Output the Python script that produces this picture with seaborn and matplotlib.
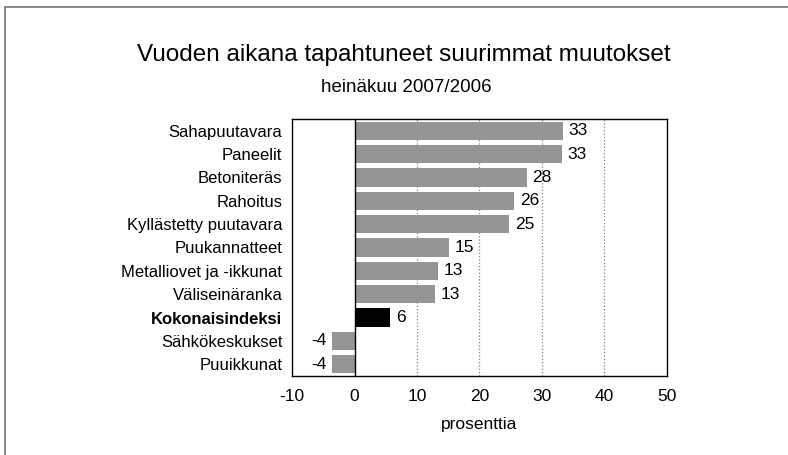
import numpy as np
import pandas as pd
import matplotlib
matplotlib.use("Agg")
import matplotlib.pyplot as plt
from matplotlib.lines import Line2D
import seaborn as sns

# Data
categories = ["Sahapuutavara", "Paneelit", "Betoniteräs", "Rahoitus",
              "Kyllästetty puutavara", "Puukannatteet", "Metalliovet ja -ikkunat",
              "Väliseinäranka", "Kokonaisindeksi", "Sähkökeskukset", "Puuikkunat"]
values = [33.4, 33.2, 27.6, 25.6, 24.8, 15.1, 13.3, 12.9, 5.7, -3.6, -3.6]
highlight = "Kokonaisindeksi"
x_ticks = [-10, 0, 10, 20, 30, 40, 50]

sns.set_theme(style="white")
plt.rcParams["font.family"] = ["Liberation Sans Narrow", "Liberation Sans", "DejaVu Sans"]
plt.rcParams["text.color"] = "black"
plt.rcParams["xtick.color"] = "black"
plt.rcParams["ytick.color"] = "black"
plt.rcParams["axes.labelcolor"] = "black"

df = pd.DataFrame({"kategoria": categories, "muutos": values})
colors = ["black" if c == highlight else "#959595" for c in categories]

fig = plt.figure(figsize=(7.88, 4.55), dpi=100)
ax = fig.add_axes([0.3706, 0.1736, 0.4758, 0.5649])

sns.barplot(data=df, x="muutos", y="kategoria", hue="kategoria", palette=colors,
            legend=False, width=0.78, saturation=1, orient="h", ax=ax)
for p in ax.patches:
    p.set_edgecolor("none")

ax.set_xlim(-10, 50)
ax.set_ylim(len(categories) - 0.5, -0.5)
ax.set_xticks(x_ticks)
ax.set_xticklabels([str(t) for t in x_ticks])

# dotted grid lines and zero line
for t in x_ticks[2:-1]:
    ax.axvline(t, color="#808080", linestyle=":", linewidth=0.9, zorder=0)
ax.axvline(0, color="black", linewidth=1.0, zorder=3)

for s in ax.spines.values():
    s.set_color("black")
    s.set_linewidth(1.0)

ax.tick_params(axis="y", length=0, pad=7, labelsize=12)
ax.tick_params(axis="x", length=0, pad=9, labelsize=12.5)
for lbl in ax.get_yticklabels():
    if lbl.get_text() == highlight:
        lbl.set_fontweight("bold")

ax.set_ylabel("")
ax.set_xlabel("prosenttia", fontsize=12.5, labelpad=10)

# value labels
for i, v in enumerate(values):
    if v >= 0:
        ax.text(v + 0.9, i, f"{round(v):d}", va="center", ha="left", fontsize=12.5)
    else:
        ax.text(v - 0.9, i, f"{round(v):d}", va="center", ha="right", fontsize=12.5)

fig.text(0.512, 0.866, "Vuoden aikana tapahtuneet suurimmat muutokset",
         ha="center", va="baseline", fontsize=17.5)
fig.text(0.515, 0.797, "heinäkuu 2007/2006", ha="center", va="baseline", fontsize=13.5)

# frame lines (top and left) around the figure
fig.add_artist(Line2D([0.0065, 0.0065], [0.0, 0.985], color="#777777", linewidth=1.2))
fig.add_artist(Line2D([0.0065, 1.0], [0.985, 0.985], color="#777777", linewidth=1.2))

fig.savefig("out.png", dpi=100)
